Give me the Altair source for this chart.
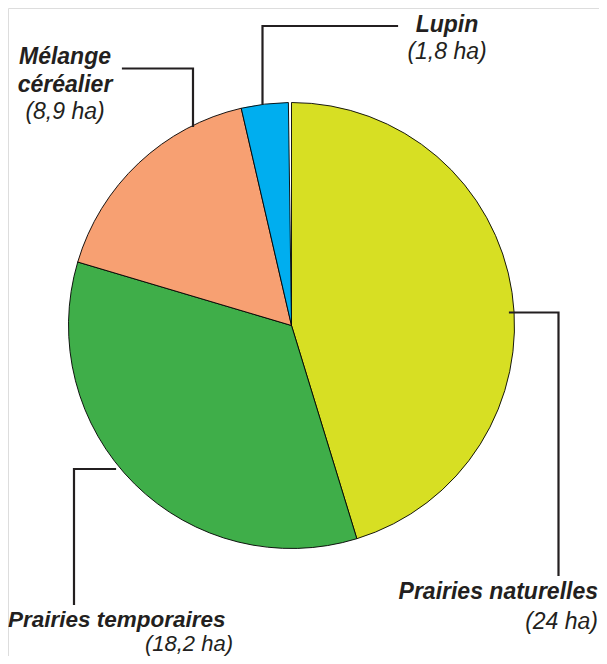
import math
import altair as alt
import pandas as pd

# ---- data ----
categories = ["Prairies naturelles", "Prairies temporaires", "Mélange céréalier", "Lupin"]
surfaces_ha = [24.0, 18.2, 8.9, 1.8]
value_labels = ["(24 ha)", "(18,2 ha)", "(8,9 ha)", "(1,8 ha)"]
colors = ["#D7DF23", "#3FAE49", "#F7A072", "#00AEEF"]

# ---- layout (page pixel coordinates) ----
W, H = 591, 648
CX, CY, R = 291.5, 325.5, 223
INK = "#231F20"
FONT = "Liberation Sans"
FS = 23

pie_df = pd.DataFrame({"cat": categories, "value": surfaces_ha, "order": list(range(len(categories)))})

xs = alt.Scale(domain=[8, 8 + W], range=[0, W])
ys = alt.Scale(domain=[8, 8 + H], range=[0, H])

pie = alt.Chart(pie_df).mark_arc(outerRadius=R, stroke="#000000", strokeWidth=0.9).encode(
    theta=alt.Theta("value:Q", stack=True, scale=alt.Scale(range=[0, 2 * math.pi - 0.014])),
    order=alt.Order("order:Q"),
    color=alt.Color("cat:N", scale=alt.Scale(domain=categories, range=colors), legend=None),
    x=alt.value(CX - 8),
    y=alt.value(CY - 8),
)

# leader polylines (annotation layout)
leaders = {
    "Lupin": [(262.5, 103), (262.5, 26), (397, 26)],
    "Mélange céréalier": [(193, 126), (193, 68.5), (123, 68.5)],
    "Prairies naturelles": [(510, 312.5), (558.5, 312.5), (558.5, 575)],
    "Prairies temporaires": [(115, 469), (74, 469), (74, 604)],
}
rows = []
for cat, pts in leaders.items():
    for i, (px, py) in enumerate(pts):
        rows.append({"cat": cat, "i": i, "px": px, "py": py})
lead_df = pd.DataFrame(rows)

lines = alt.Chart(lead_df).mark_line(color=INK, strokeWidth=2.2, strokeCap="square").encode(
    x=alt.X("px:Q", scale=xs, axis=None),
    y=alt.Y("py:Q", scale=ys, axis=None),
    detail="cat:N",
    order="i:Q",
)

# labels
name_center = pd.DataFrame({
    "t": ["Lupin", "Mélange", "céréalier"],
    "px": [447, 65, 65],
    "py": [32, 64, 92],
})
val_center = pd.DataFrame({
    "t": [value_labels[3], value_labels[2]],
    "px": [447, 65],
    "py": [59, 119],
})
name_right = pd.DataFrame({"t": [categories[0]], "px": [598], "py": [599]})
val_right = pd.DataFrame({"t": [value_labels[0]], "px": [598], "py": [629]})
name_left = pd.DataFrame({"t": [categories[1]], "px": [8], "py": [627]})
val_right_low = pd.DataFrame({"t": [value_labels[1]], "px": [233], "py": [651]})


def txt(df, align, bold, size=FS):
    kw = dict(font=FONT, fontSize=size, fontStyle="italic", color=INK, align=align, baseline="alphabetic")
    if bold:
        kw["fontWeight"] = "bold"
    return alt.Chart(df).mark_text(**kw).encode(
        x=alt.X("px:Q", scale=xs, axis=None),
        y=alt.Y("py:Q", scale=ys, axis=None),
        text="t:N",
    )


chart = alt.layer(
    pie,
    lines,
    txt(name_center, "center", True),
    txt(val_center, "center", False),
    txt(name_right, "right", True),
    txt(val_right, "right", False),
    txt(name_left, "left", True, 22.5),
    txt(val_right_low, "right", False, 22),
).resolve_scale(x="shared", y="shared").properties(
    width=W, height=H, padding=0, autosize=alt.AutoSizeParams(type="none")
).configure_view(stroke=None).configure(background="white")

chart.save("out.html", embed_options={"renderer": "svg", "actions": False})
